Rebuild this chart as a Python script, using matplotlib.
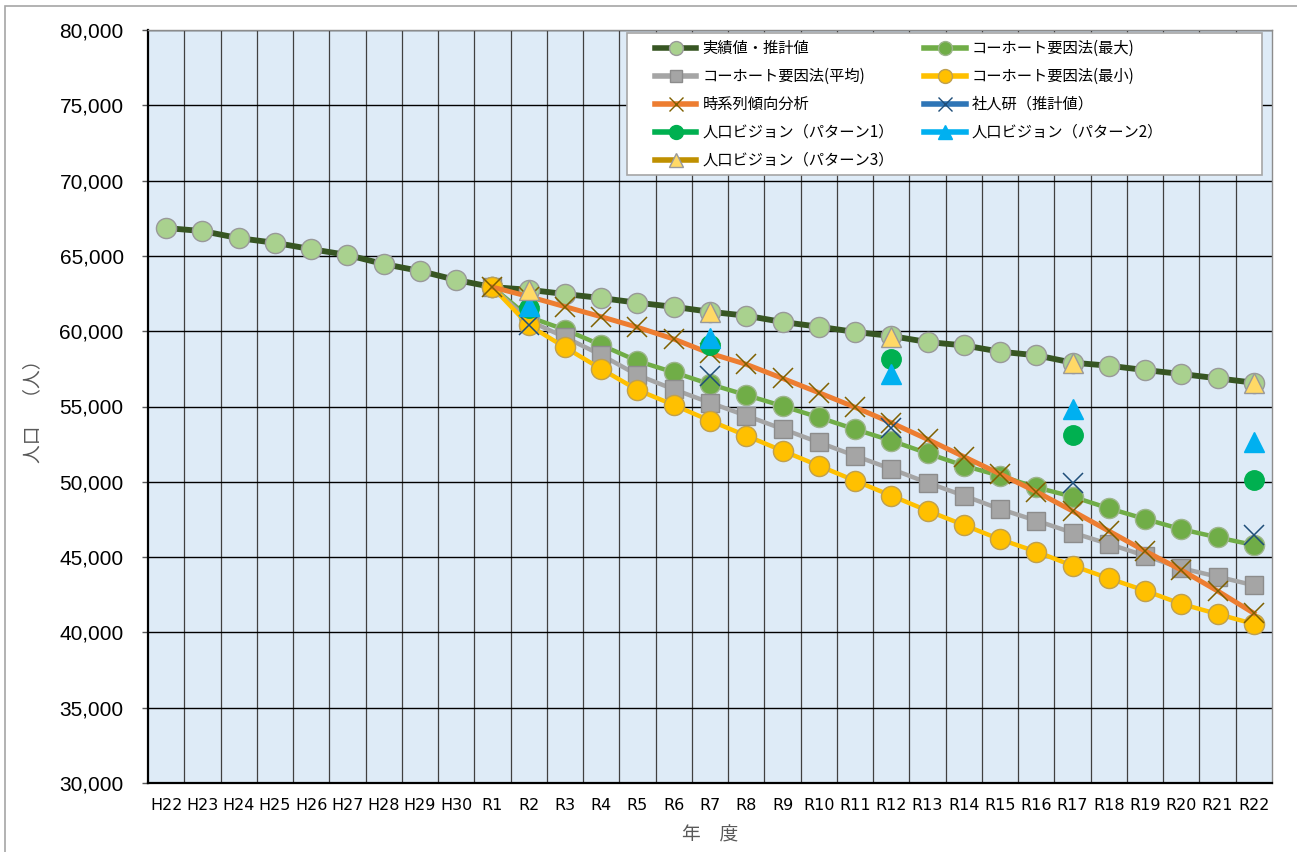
import matplotlib
matplotlib.use("Agg")
import matplotlib.pyplot as plt
from matplotlib.lines import Line2D
from matplotlib.patches import Rectangle
from matplotlib.ticker import FuncFormatter, FixedLocator

plt.rcParams['font.family'] = ['Noto Sans CJK JP', 'DejaVu Sans']

# fiscal years: Heisei 22-30, then Reiwa 1-22
years = ['H%d' % y for y in range(22, 31)] + ['R%d' % y for y in range(1, 23)]

# actual / estimated population, H22..R22
actual = [66850, 66650, 66180, 65870, 65450, 65060, 64460, 64000, 63400,
          62930, 62750, 62470, 62200, 61890, 61620, 61290, 61030, 60610,
          60300, 59950, 59680, 59280, 59060, 58640, 58400, 57910, 57710,
          57420, 57160, 56870, 56580]

# projections, R1..R22
cohort_max = [62930, 60950, 60100, 59080, 58020, 57270, 56480, 55760, 55030,
              54280, 53490, 52730, 51890, 51070, 50400, 49630, 49010, 48240,
              47530, 46850, 46310, 45800]
cohort_avg = [62930, 60700, 59600, 58420, 57090, 56140, 55250, 54390, 53510,
              52620, 51730, 50850, 49940, 49080, 48190, 47420, 46620, 45870,
              45090, 44260, 43700, 43130]
cohort_min = [62930, 60400, 58930, 57490, 56100, 55100, 54060, 53060, 52060,
              51070, 50070, 49080, 48080, 47130, 46180, 45360, 44430, 43590,
              42770, 41890, 41220, 40560]
trend = [62930, 62300, 61630, 60960, 60260, 59480, 58530, 57800, 56870,
         55920, 54950, 53920, 52820, 51670, 50520, 49340, 48060, 46730,
         45400, 44140, 42750, 41270]

# five-year points: R2, R7, R12, R17, R22
five_years = ['R2', 'R7', 'R12', 'R17', 'R22']
ipss = [60400, 57030, 53550, 49900, 46470]
vision1 = [61550, 59080, 58130, 53110, 50120]
vision2 = [61650, 59530, 57160, 54810, 52660]
vision3 = [62750, 61290, 59600, 57910, 56570]

x_all = list(range(len(years)))
x_proj = [years.index('R1') + i for i in range(len(cohort_max))]
x_five = [years.index(y) for y in five_years]

fig = plt.figure(figsize=(12.97, 8.52), dpi=100)
ax = fig.add_axes([148 / 1297, 69 / 852, 1124 / 1297, 753 / 852])
ax.set_facecolor('#DEEBF7')

# outer frame of the chart
fig.add_artist(Rectangle((5 / 1297, -0.1), 1.2, 0.1 + 846 / 852,
                         transform=fig.transFigure, fill=False,
                         edgecolor='#A6A6A6', linewidth=1.2))

ax.plot(x_all, actual, color='#375623', lw=4.2, marker='o', ms=14.5,
        mfc='#A9D18E', mec='#999999', mew=1.0, zorder=3)
ax.plot(x_proj, cohort_max, color='#70AD47', lw=3.2, marker='o', ms=14.5,
        mfc='#70AD47', mec='#9DB58C', mew=1.0, zorder=4)
ax.plot(x_proj, cohort_avg, color='#A5A5A5', lw=3.2, marker='s', ms=13,
        mfc='#A5A5A5', mec='#8C8C8C', mew=1.0, zorder=5)
ax.plot(x_proj, cohort_min, color='#FFC000', lw=3.2, marker='o', ms=14.5,
        mfc='#FFC000', mec='#BFA050', mew=1.0, zorder=6)
ax.plot(x_proj, trend, color='#ED7D31', lw=3.6, marker='x', ms=14,
        mec='#7F6000', mew=1.1, zorder=7)
ax.plot(x_five, ipss, ls='none', marker='x', ms=14, mec='#1F4E79',
        mew=1.1, zorder=8)
ax.plot(x_five, vision1, ls='none', marker='o', ms=14, mfc='#00B050',
        mec='#00B050', zorder=9)
ax.plot(x_five, vision2, ls='none', marker='^', ms=14, mfc='#00B0F0',
        mec='#00B0F0', zorder=10)
ax.plot(x_five, vision3, ls='none', marker='^', ms=14, mfc='#FFD966',
        mec='#999999', mew=1.0, zorder=11)

ax.set_xlim(-0.5, len(years) - 0.5)
ax.set_ylim(30000, 80000)
ax.set_yticks(range(30000, 80001, 5000))
ax.yaxis.set_major_formatter(FuncFormatter(lambda v, p: '{:,.0f}'.format(v)))
ax.set_xticks(x_all)
ax.set_xticklabels(years)
ax.xaxis.set_minor_locator(FixedLocator([i + 0.5 for i in range(len(years) - 1)]))

ax.grid(axis='y', which='major', color='black', lw=1.0, zorder=1)
ax.grid(axis='x', which='minor', color='#404040', lw=0.9, zorder=1)
ax.set_axisbelow(True)

ax.tick_params(axis='y', length=4.5, width=1, color='#595959', pad=13,
               labelsize=15)
ax.tick_params(axis='x', which='both', length=0, pad=11)
for lab in ax.get_xticklabels():
    lab.set_family(['Liberation Sans Narrow', 'DejaVu Sans'])
    lab.set_fontsize(11.5)
for lab in ax.get_yticklabels():
    lab.set_family(['Liberation Sans', 'DejaVu Sans'])

for side in ('left', 'bottom'):
    ax.spines[side].set_color('black')
    ax.spines[side].set_linewidth(1.6)
for side in ('top', 'right'):
    ax.spines[side].set_color('#8C8C8C')
    ax.spines[side].set_linewidth(1.0)

ax.set_xlabel('年　度', fontsize=13.5, color='#595959', labelpad=8)
ax.set_ylabel('人口　（人）', fontsize=13.5, color='#595959', labelpad=12)

# legend entries, ordered so the two columns read row by row
handles = [
    Line2D([], [], color='#375623', lw=4, marker='o', ms=10, mfc='#A9D18E', mec='#999999'),
    Line2D([], [], color='#A5A5A5', lw=4, marker='s', ms=9, mfc='#A5A5A5', mec='#8C8C8C'),
    Line2D([], [], color='#ED7D31', lw=4, marker='x', ms=10, mec='#7F6000', mew=1),
    Line2D([], [], color='#00B050', lw=4, marker='o', ms=10, mfc='#00B050', mec='#00B050'),
    Line2D([], [], color='#BF9000', lw=4, marker='^', ms=10, mfc='#FFD966', mec='#999999'),
    Line2D([], [], color='#70AD47', lw=4, marker='o', ms=10, mfc='#70AD47', mec='#9DB58C'),
    Line2D([], [], color='#FFC000', lw=4, marker='o', ms=10, mfc='#FFC000', mec='#BFA050'),
    Line2D([], [], color='#2E75B6', lw=4, marker='x', ms=10, mec='#1F4E79', mew=1),
    Line2D([], [], color='#00B0F0', lw=4, marker='^', ms=10, mfc='#00B0F0', mec='#00B0F0'),
]
labels = ['実績値・推計値', 'コーホート要因法(平均)', '時系列傾向分析',
          '人口ビジョン（パターン1）', '人口ビジョン（パターン3）',
          'コーホート要因法(最大)', 'コーホート要因法(最小)', '社人研（推計値）',
          '人口ビジョン（パターン2）']

# legend box drawn on its own so the entries can sit off-centre inside it
ax.add_patch(Rectangle((0.4262, 0.8074), 0.5649, 0.1886, transform=ax.transAxes,
                       facecolor='white', edgecolor='#A6A6A6', lw=1.2,
                       clip_on=False, zorder=19))
leg = ax.legend(handles, labels, ncol=2, loc='upper left',
                bbox_to_anchor=(0.4511, 0.9867), fontsize=11,
                handlelength=2.7, handletextpad=0.4, columnspacing=2.0,
                labelspacing=0.72, borderpad=0.0, borderaxespad=0.0,
                frameon=False)
leg.set_zorder(20)

fig.savefig('out.png', dpi=100)
